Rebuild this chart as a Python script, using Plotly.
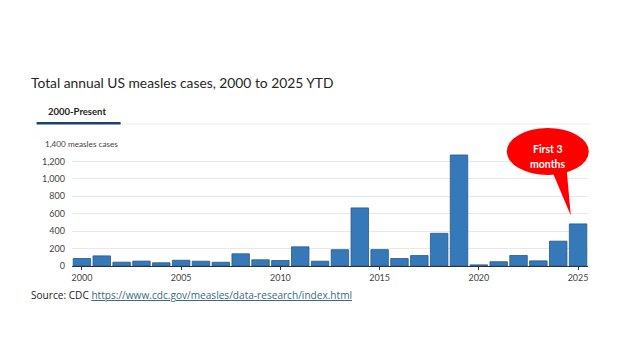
import plotly.graph_objects as go

# Annual reported measles cases in the US (2025 = first three months)
years = list(range(2000, 2026))
cases = [86, 116, 44, 56, 37, 66, 55, 43, 140, 71, 63, 220, 55, 187,
         667, 188, 86, 120, 375, 1274, 13, 49, 121, 59, 285, 483]

x_tick_vals = [2000, 2005, 2010, 2015, 2020, 2025]
y_tick_vals = [0, 200, 400, 600, 800, 1000, 1200, 1400]
y_tick_text = ["0", "200", "400", "600", "800", "1,000", "1,200", ""]

W, H = 624, 347
L, R, T, B = 72.4, 588.2, 144.0, 266.0


def px(x):
    return (x - L) / (R - L)


def py(y):
    return (B - y) / (B - T)


fig = go.Figure(
    go.Bar(
        x=years,
        y=cases,
        marker=dict(color="#3679b8", line=dict(color="#24588c", width=0.8)),
        width=0.88,
        hoverinfo="x+y",
    )
)

tick_font = dict(family="Lato, Noto Sans, sans-serif", size=9, color="#444444")

fig.update_layout(
    width=W,
    height=H,
    margin=dict(l=L, r=W - R, t=T, b=H - B, pad=0),
    paper_bgcolor="white",
    plot_bgcolor="white",
    showlegend=False,
    xaxis=dict(
        range=[1999.5, 2025.5],
        tickvals=x_tick_vals,
        ticks="outside",
        ticklen=3,
        tickcolor="#333333",
        showline=True,
        linecolor="#333333",
        linewidth=1,
        showgrid=False,
        zeroline=False,
        tickfont=tick_font,
        fixedrange=True,
    ),
    yaxis=dict(
        range=[0, 1400],
        tickvals=y_tick_vals,
        ticktext=y_tick_text,
        showgrid=True,
        gridcolor="#e8e8e8",
        gridwidth=1,
        zeroline=False,
        showline=False,
        ticks="",
        tickfont=tick_font,
        ticklabelstandoff=6,
        fixedrange=True,
    ),
)

shapes = [
    # tab underline
    dict(type="line", xref="paper", yref="paper",
         x0=px(120), x1=px(590), y0=py(124), y1=py(124),
         line=dict(color="#ececec", width=1)),
    dict(type="line", xref="paper", yref="paper",
         x0=px(37), x1=px(121), y0=py(123.3), y1=py(123.3),
         line=dict(color="#1d3f73", width=2.5)),
    # speech bubble
    dict(type="circle", xref="paper", yref="paper",
         x0=px(507), x1=px(589), y0=py(175), y1=py(128),
         fillcolor="#ff0000", line=dict(width=0)),
    dict(type="path", xref="paper", yref="paper",
         path=f"M {px(551)},{py(168)} L {px(571)},{py(215.5)} L {px(567)},{py(171)} Z",
         fillcolor="#ff0000", line=dict(width=0)),
]

annotations = [
    dict(text="Total annual US measles cases, 2000 to 2025 YTD",
         xref="paper", yref="paper", x=px(29), y=py(82.5),
         xanchor="left", yanchor="middle", showarrow=False,
         font=dict(family="Lato, sans-serif", size=13.8, color="#262626")),
    dict(text="<b>2000-Present</b>",
         xref="paper", yref="paper", x=px(46), y=py(111.5),
         xanchor="left", yanchor="middle", showarrow=False,
         font=dict(family="Lato, sans-serif", size=9.5, color="#222222")),
    dict(text="1,400 measles cases",
         xref="paper", yref="paper", x=px(43.5), y=py(144),
         xanchor="left", yanchor="middle", showarrow=False,
         bgcolor="white", borderpad=1,
         font=dict(family="Lato, Noto Sans, sans-serif", size=8.2, color="#444444")),
    dict(text="<b>First 3</b>",
         xref="paper", yref="paper", x=px(548), y=py(149),
         xanchor="center", yanchor="middle", showarrow=False,
         font=dict(family="Lato, sans-serif", size=10.5, color="white")),
    dict(text="<b>months</b>",
         xref="paper", yref="paper", x=px(548), y=py(164),
         xanchor="center", yanchor="middle", showarrow=False,
         font=dict(family="Lato, sans-serif", size=10.5, color="white")),
    dict(text="Source: CDC <span style='color:#3a6b7e;text-decoration:underline'>"
              "https://www.cdc.gov/measles/data-research/index.html</span>",
         xref="paper", yref="paper", x=px(29), y=py(295),
         xanchor="left", yanchor="middle", showarrow=False,
         font=dict(family="Open Sans, sans-serif", size=10.1, color="#222222")),
]

fig.update_layout(shapes=shapes, annotations=annotations)

fig.write_html("out.html")
